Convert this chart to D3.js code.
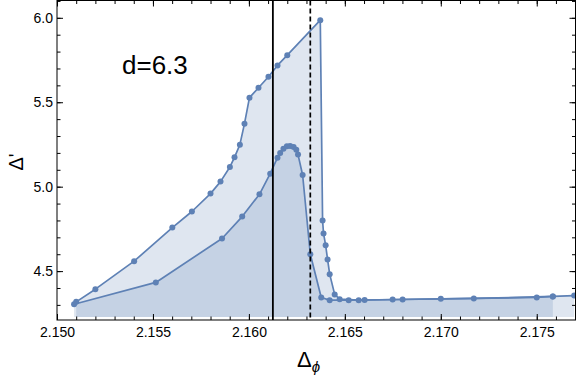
<!DOCTYPE html>
<html>
<head>
<meta charset="utf-8">
<script src="https://cdn.jsdelivr.net/npm/d3@7"></script>
<style>
  body { margin: 0; background: #fff; }
  svg { display: block; font-family: "Liberation Sans", Arial, sans-serif; }
</style>
</head>
<body>
<svg id="chart"></svg>
<script>
// Data
const upperX = [2.15100, 2.15200, 2.15402, 2.15601, 2.15703, 2.15800, 2.15852, 2.15901, 2.15925,
  2.15953, 2.15977, 2.16003, 2.16050, 2.16102, 2.16149, 2.16200, 2.16372, 2.16384, 2.16389,
  2.16400, 2.16410, 2.16421, 2.16447, 2.16473, 2.16572, 2.16801, 2.17172, 2.17584, 2.17695];
const upperY = [4.318, 4.393, 4.559, 4.758, 4.853, 4.959, 5.030, 5.117, 5.174,
  5.249, 5.373, 5.527, 5.586, 5.651, 5.718, 5.779, 5.986, 4.800, 4.723,
  4.653, 4.569, 4.482, 4.362, 4.334, 4.328, 4.332, 4.338, 4.350, 4.355];

const lowerX = [2.15089, 2.15515, 2.15860, 2.15965, 2.16055, 2.16111, 2.16149, 2.16163, 2.16180,
  2.16198, 2.16215, 2.16233, 2.16247, 2.16256, 2.16280, 2.16320, 2.16377, 2.16421, 2.16520,
  2.16603, 2.16749, 2.17000, 2.17500, 2.17584];
const lowerY = [4.304, 4.433, 4.693, 4.823, 4.955, 5.077, 5.172, 5.199, 5.225,
  5.239, 5.241, 5.235, 5.219, 5.190, 5.069, 4.600, 4.344, 4.328, 4.328,
  4.329, 4.332, 4.336, 4.344, 4.350];

const fillBase = 4.228;
const solidLineX = 2.16125;
const dashedLineX = 2.16320;

const xMajor = [2.150, 2.155, 2.160, 2.165, 2.170, 2.175];
const yMajor = [4.5, 5.0, 5.5, 6.0];
const xMinor = d3.range(2150, 2178).map((d) => d / 1000);
const yMinor = d3.range(43, 62).map((d) => d / 10);

const label = "d=6.3";

// 1. SVG setup
const W = 576, H = 380;
const svg = d3.select("#chart").attr("width", W).attr("height", H);
const margin = { top: 0.5, right: 0.5, bottom: 60, left: 57 };
const width = W - margin.left - margin.right;
const height = H - margin.top - margin.bottom;

const g = svg.append("g").attr("transform", `translate(${margin.left},${margin.top})`);

const x = d3.scaleLinear().domain([2.150, 2.17702]).range([0, width]);
const y = d3.scaleLinear().domain([4.2105, 6.1025]).range([height, 0]);

const color = "#5e81b5";
const fillColor = "rgba(94,129,181,0.2)";

svg.append("defs").append("clipPath").attr("id", "plot-clip")
  .append("rect").attr("width", width).attr("height", height);

const plot = g.append("g").attr("clip-path", "url(#plot-clip)");

const series = [
  d3.zip(upperX, upperY),
  d3.zip(lowerX, lowerY),
];

// 2. Fills down to the base
const area = d3.area()
  .x((d) => x(d[0]))
  .y0(y(fillBase))
  .y1((d) => y(d[1]));

series.forEach((s) => {
  plot.append("path").attr("d", area(s)).attr("fill", fillColor);
});

// 3. Lines and points
const line = d3.line().x((d) => x(d[0])).y((d) => y(d[1]));

series.forEach((s) => {
  plot.append("path")
    .attr("d", line(s))
    .attr("fill", "none")
    .attr("stroke", color)
    .attr("stroke-width", 1.7)
    .attr("stroke-linejoin", "round");
  plot.selectAll(null)
    .data(s)
    .enter()
    .append("circle")
    .attr("cx", (d) => x(d[0]))
    .attr("cy", (d) => y(d[1]))
    .attr("r", 3)
    .attr("fill", color);
});

// 4. Vertical reference lines
plot.append("line")
  .attr("x1", x(solidLineX)).attr("x2", x(solidLineX))
  .attr("y1", 0).attr("y2", height)
  .attr("stroke", "#000").attr("stroke-width", 1.8);

plot.append("line")
  .attr("x1", x(dashedLineX)).attr("x2", x(dashedLineX))
  .attr("y1", 0).attr("y2", height)
  .attr("stroke", "#000").attr("stroke-width", 1.7)
  .attr("stroke-dasharray", "5,3");

// 5. Frame with inward ticks
function styleAxis(sel) {
  sel.select(".domain").remove();
  sel.selectAll("line").attr("stroke", "#000");
  sel.selectAll("text").attr("font-size", "14px").attr("fill", "#000")
    .attr("font-family", "'Liberation Sans', Arial, sans-serif");
}

g.append("g").attr("transform", `translate(0,${height})`)
  .call(d3.axisBottom(x).tickValues(xMinor).tickSize(-3.5).tickFormat(""))
  .call(styleAxis);
g.append("g").attr("transform", `translate(0,${height})`)
  .call(d3.axisBottom(x).tickValues(xMajor).tickSize(-6).tickPadding(7).tickFormat(d3.format(".3f")))
  .call(styleAxis);
g.append("g")
  .call(d3.axisTop(x).tickValues(xMinor).tickSize(-3.5).tickFormat(""))
  .call(styleAxis);
g.append("g")
  .call(d3.axisTop(x).tickValues(xMajor).tickSize(-6).tickFormat(""))
  .call(styleAxis);

g.append("g")
  .call(d3.axisLeft(y).tickValues(yMinor).tickSize(-3.5).tickFormat(""))
  .call(styleAxis);
g.append("g")
  .call(d3.axisLeft(y).tickValues(yMajor).tickSize(-6).tickPadding(4).tickFormat(d3.format(".1f")))
  .call(styleAxis);
g.append("g").attr("transform", `translate(${width},0)`)
  .call(d3.axisRight(y).tickValues(yMinor).tickSize(-3.5).tickFormat(""))
  .call(styleAxis);
g.append("g").attr("transform", `translate(${width},0)`)
  .call(d3.axisRight(y).tickValues(yMajor).tickSize(-6).tickFormat(""))
  .call(styleAxis);

g.append("rect")
  .attr("width", width).attr("height", height)
  .attr("fill", "none").attr("stroke", "#000").attr("stroke-width", 1);

// 6. Labels
svg.append("text")
  .attr("x", 122).attr("y", 74)
  .attr("font-size", "26px")
  .attr("fill", "#000")
  .text(label);

svg.append("text")
  .attr("transform", "translate(23,162) rotate(-90)")
  .attr("text-anchor", "middle")
  .attr("font-size", "20px")
  .attr("fill", "#000")
  .text("Δ'");

const xl = svg.append("text")
  .attr("x", 297).attr("y", 367)
  .attr("font-size", "22px")
  .attr("fill", "#000");
xl.append("tspan").text("Δ");
xl.append("tspan").attr("dy", 5).attr("font-size", "15px").attr("font-style", "italic").text("ϕ");
</script>
</body>
</html>
